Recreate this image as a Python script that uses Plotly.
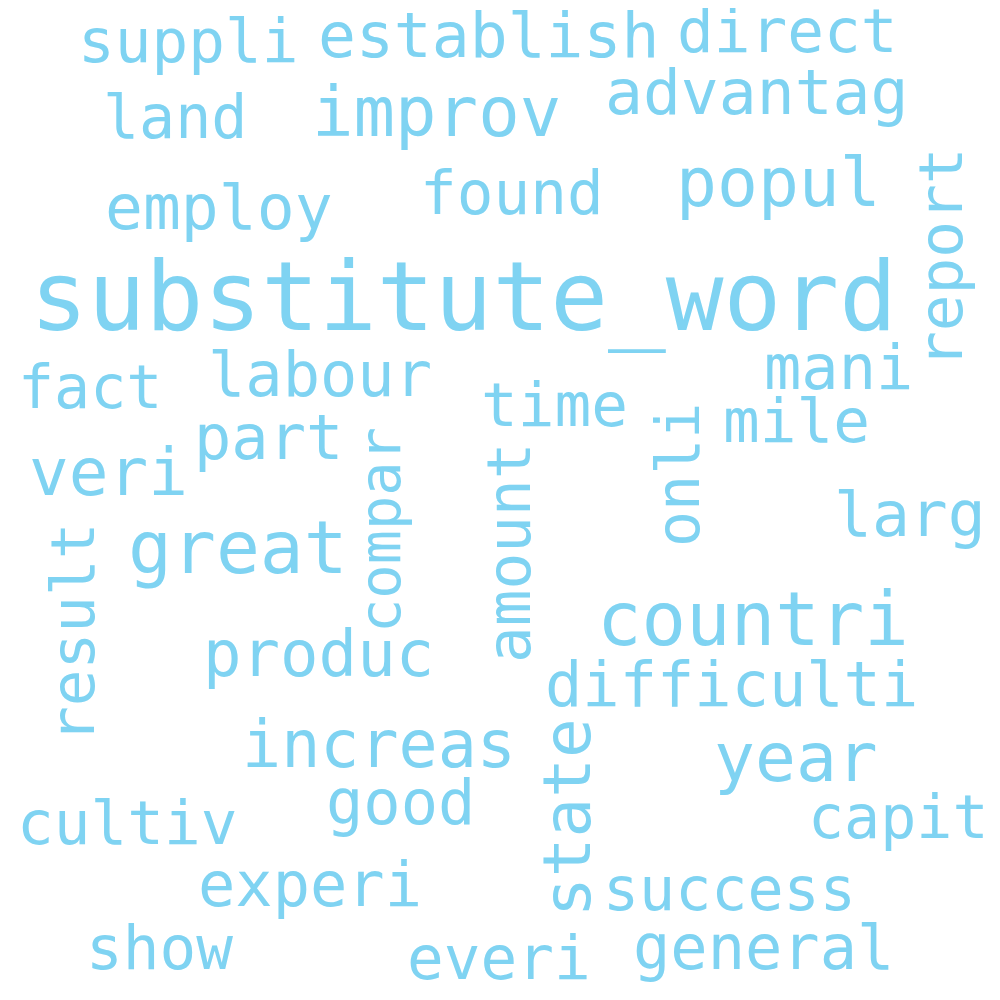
import plotly.graph_objects as go

# word cloud data: word, centre x, centre y (pixels from top-left), font size, rotation
words = ["suppli", "establish", "direct", "advantag", "land", "improv", "employ", "found",
         "popul", "report", "substitute_word", "fact", "labour", "mani", "time", "mile",
         "part", "onli", "compar", "amount", "veri", "great", "larg", "result", "countri",
         "produc", "difficulti", "increas", "state", "year", "good", "cultiv", "capit",
         "experi", "success", "show", "everi", "general"]
cx = [180, 480, 779, 748, 167, 428, 211, 504, 770, 940, 455, 82, 312, 830, 546, 788,
      260, 678, 380, 508, 100, 230, 902, 72, 745, 310, 723, 371, 567, 788, 392, 119, 890,
      302, 721, 151, 491, 755]
cy = [38, 33, 28, 90, 115, 110, 205, 190, 180, 250, 295, 385, 372, 365, 402, 418,
      435, 467, 522, 545, 470, 545, 512, 625, 617, 652, 682, 742, 810, 755, 800, 820, 815,
      882, 887, 945, 955, 945]
sizes = [61, 63, 61, 63, 60, 69, 63, 61, 68, 61, 96, 60, 62, 62, 61, 61,
         62, 60, 57, 61, 66, 73, 63, 61, 74, 64, 62, 65, 66, 68, 62, 61, 60,
         62, 60, 61, 61, 62]
angles = [0, 0, 0, 0, 0, 0, 0, 0, 0, -90, 0, 0, 0, 0, 0, 0,
          0, -90, -90, -90, 0, 0, 0, -90, 0, 0, 0, 0, -90, 0, 0, 0, 0,
          0, 0, 0, 0, 0]

fig = go.Figure()
for w, x, y, s, a in zip(words, cx, cy, sizes, angles):
    if a:
        x -= 8
    else:
        y -= 6
    fig.add_annotation(x=x, y=y, text=w, showarrow=False, textangle=a,
                       xanchor="center", yanchor="middle",
                       font=dict(family="DejaVu Sans Mono", size=s, color="#7fd3f2"))

fig.update_xaxes(range=[0, 1000], visible=False)
fig.update_yaxes(range=[1000, 0], visible=False)
fig.update_layout(width=1000, height=1000, margin=dict(l=0, r=0, t=0, b=0),
                  plot_bgcolor="white", paper_bgcolor="white", showlegend=False)
fig.write_html("out.html")
